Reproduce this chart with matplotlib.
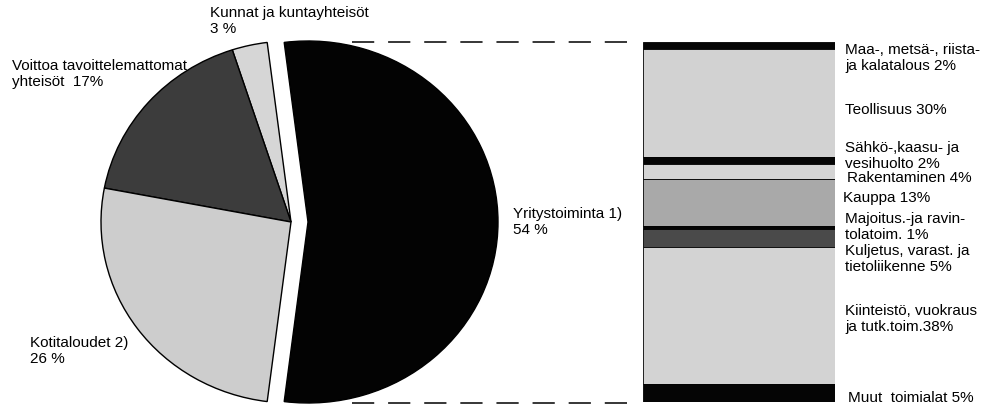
import matplotlib
matplotlib.use("Agg")
import matplotlib.pyplot as plt
import numpy as np

plt.rcParams['font.family'] = ['Liberation Sans', 'DejaVu Sans']
plt.rcParams['lines.scale_dashes'] = False

# ---- data ----
pie_labels = ["Yritystoiminta 1)\n54 %", "Kunnat ja kuntayhteisöt\n3 %",
              "Voittoa tavoittelemattomat\nyhteisöt  17%", "Kotitaloudet 2)\n26 %"]
pie_values = [54, 3, 17, 26]
pie_colors = ["#030303", "#d6d6d6", "#3c3c3c", "#cdcdcd"]

bar_labels = ["Maa-, metsä-, riista-\nja kalatalous 2%", "Teollisuus 30%",
              "Sähkö-,kaasu- ja\nvesihuolto 2%", "Rakentaminen 4%", "Kauppa 13%",
              "Majoitus.-ja ravin-\ntolatoim. 1%", "Kuljetus, varast. ja\ntietoliikenne 5%",
              "Kiinteistö, vuokraus\nja tutk.toim.38%", "Muut  toimialat 5%"]
bar_values = [2, 30, 2, 4, 13, 1, 5, 38, 5]
bar_colors = ["#050505", "#d2d2d2", "#050505", "#d4d4d4", "#a9a9a9",
              "#050505", "#4a4a4a", "#d3d3d3", "#050505"]

W, H = 987, 407
fig = plt.figure(figsize=(W / 100, H / 100), dpi=100)

# pie axes (slightly wider than tall, as in the scanned original)
cx, cy, rx, ry = 291, 222, 190, 181
pax = fig.add_axes([0, 0, 1, 1])
start = -pie_values[0] / 100 * 360 / 2
pax.pie(pie_values, colors=pie_colors, startangle=start,
        center=(0, 0), radius=1.0, explode=[17 / rx, 0, 0, 0],
        wedgeprops=dict(edgecolor="black", linewidth=1.0), frame=True)
pax.set_aspect('auto')
pax.set_xlim((0 - cx) / rx, (W - cx) / rx)
pax.set_ylim((cy - H) / ry, cy / ry)
pax.axis('off')

# overlay axes in pixel coordinates for text and connectors
ax = fig.add_axes([0, 0, 1, 1])
ax.set_xlim(0, W)
ax.set_ylim(H, 0)
ax.axis('off')
ax.patch.set_alpha(0)

fs = 11
ls = 1.15
pie_label_pos = [(513, 222), (210, 21), (12, 74), (30, 351)]
for lab, (x, y) in zip(pie_labels, pie_label_pos):
    ax.text(x, y, lab, fontsize=fs, ha='left', va='center', linespacing=ls)

# dashed connector lines
for yy in (42, 403):
    ax.plot([352, 640], [yy, yy], color='black', lw=1.1, dashes=(16, 10))

# stacked bar
bx0, bx1, by0, by1 = 643, 835, 42, 402
bax = fig.add_axes([bx0 / W, (H - by1) / H, (bx1 - bx0) / W, (by1 - by0) / H])
bottoms = np.concatenate([[0], np.cumsum(bar_values)[:-1]])
bax.bar(0, bar_values, bottom=bottoms, width=1.0, color=bar_colors,
        edgecolor='black', linewidth=0.6)
bax.set_xlim(-0.5, 0.5)
bax.set_ylim(100, 0)
bax.axis('off')

bar_label_pos = [(845, 58), (845, 110), (845, 156), (847, 178), (843, 198),
                 (845, 227), (845, 259), (845, 319), (848, 398)]
for lab, (x, y) in zip(bar_labels, bar_label_pos):
    ax.text(x, y, lab, fontsize=fs, ha='left', va='center', linespacing=ls)

fig.savefig("out.png", dpi=100)
